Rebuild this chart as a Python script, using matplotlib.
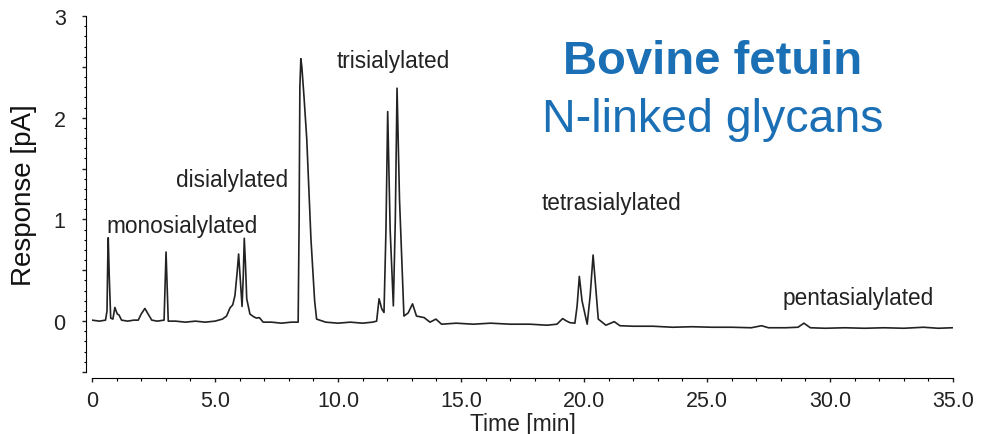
import matplotlib.pyplot as plt
from matplotlib.ticker import MultipleLocator, FuncFormatter

plt.rcParams['font.family'] = ['Liberation Sans', 'DejaVu Sans']

# chromatogram trace: time [min], response [pA]
time = [0.0, 0.30, 0.55, 0.61, 0.64, 0.66, 0.70, 0.76, 0.85, 0.93, 0.98, 1.03, 1.10, 1.20,
        1.45, 1.70, 1.88, 2.00, 2.15, 2.28, 2.43, 2.65, 2.93, 3.01, 3.10, 3.40,
        3.80, 4.20, 4.60, 5.00, 5.30, 5.47, 5.61, 5.72, 5.81, 5.90, 5.96, 6.03,
        6.10, 6.15, 6.19, 6.24, 6.29, 6.42, 6.56, 6.68, 6.80, 6.96, 7.30, 7.70,
        8.10, 8.38, 8.42, 8.45, 8.49, 8.53, 8.62, 8.73, 8.90, 9.05, 9.13, 9.50,
        10.0, 10.5, 11.0, 11.40, 11.57, 11.67, 11.78, 11.87, 11.95, 12.02, 12.12,
        12.25, 12.33, 12.40, 12.50, 12.68, 12.85, 13.03, 13.19, 13.50, 13.74,
        13.98, 14.21, 14.80, 15.50, 16.20, 17.00, 17.80, 18.50, 18.90, 19.13,
        19.30, 19.43, 19.63, 19.72, 19.81, 19.92, 20.13, 20.25, 20.37, 20.47,
        20.58, 20.89, 21.23, 21.46, 22.00, 22.80, 23.60, 24.40, 25.20, 26.00,
        26.80, 27.22, 27.50, 28.20, 28.70, 28.94, 29.20, 29.80, 30.60, 31.40,
        32.20, 33.00, 33.80, 34.40, 34.97]
response = [0.01, 0.0, 0.01, 0.10, 0.60, 0.82, 0.45, 0.03, 0.02, 0.135, 0.10, 0.07, 0.06, 0.01,
            0.0, 0.01, 0.01, 0.07, 0.125, 0.07, 0.01, 0.0, 0.01, 0.68, 0.0, 0.0,
            -0.01, 0.0, -0.01, 0.0, 0.02, 0.05, 0.13, 0.16, 0.25, 0.48, 0.66, 0.40,
            0.145, 0.45, 0.815, 0.55, 0.22, 0.07, 0.045, 0.03, 0.035, -0.01, -0.01, -0.02,
            -0.01, -0.01, 1.00, 2.30, 2.58, 2.50, 2.20, 1.79, 0.81, 0.20, 0.02, -0.01,
            -0.02, -0.01, -0.02, -0.01, 0.0, 0.22, 0.12, 0.085, 0.90, 2.06, 0.90,
            0.15, 1.00, 2.29, 1.20, 0.05, 0.08, 0.17, 0.05, 0.035, -0.01,
            0.02, -0.03, -0.02, -0.03, -0.02, -0.03, -0.03, -0.04, -0.03, 0.025,
            0.0, -0.015, -0.02, 0.15, 0.44, 0.20, -0.03, 0.25, 0.65, 0.35,
            0.02, -0.04, -0.005, -0.045, -0.05, -0.05, -0.06, -0.055, -0.06, -0.06,
            -0.065, -0.045, -0.065, -0.065, -0.06, -0.02, -0.065, -0.07, -0.065, -0.07,
            -0.065, -0.07, -0.06, -0.07, -0.065]

labels = ['monosialylated', 'disialylated', 'trisialylated', 'tetrasialylated', 'pentasialylated']
label_x = [0.57, 3.41, 9.96, 18.29, 28.09]
label_y = [0.94, 1.39, 2.56, 1.17, 0.23]

fig = plt.figure(figsize=(9.84, 4.35), dpi=100)
ax = fig.add_axes([92 / 984, 62 / 435, 861 / 984, 356 / 435])

ax.plot(time, response, color='#222222', lw=1.2)

for txt, x, y in zip(labels, label_x, label_y):
    ax.text(x, y, txt, fontsize=16.3, color='#222222', ha='left', va='center')

ax.text(25.24, 2.56, 'Bovine fetuin', fontsize=34, fontweight='bold',
        color='#1b6fb5', ha='center', va='center')
ax.text(25.24, 1.99, 'N-linked glycans', fontsize=33.5,
        color='#1b6fb5', ha='center', va='center')

ax.set_xlim(0, 35)
ax.set_ylim(-0.5, 3)
ax.spines['top'].set_visible(False)
ax.spines['right'].set_visible(False)
ax.spines['left'].set_position(('outward', 4))
ax.spines['bottom'].set_position(('outward', 4))

ax.xaxis.set_major_locator(MultipleLocator(5))
ax.xaxis.set_minor_locator(MultipleLocator(1))
ax.xaxis.set_major_formatter(FuncFormatter(lambda v, p: '0' if v == 0 else f'{v:.1f}'))
ax.yaxis.set_major_locator(MultipleLocator(0.5))
ax.yaxis.set_minor_locator(MultipleLocator(0.1))
ax.yaxis.set_major_formatter(FuncFormatter(lambda v, p: f'{v:.0f}' if v >= 0 and v == int(v) else ''))

ax.tick_params(axis='both', which='major', length=3, width=1, labelsize=15.5, colors='#222222')
ax.tick_params(axis='both', which='minor', length=1.8, width=0.8)
ax.tick_params(axis='y', which='major', pad=12)
ax.tick_params(axis='x', which='major', pad=6)

ax.set_xlabel('Time [min]', fontsize=16.5, color='#222222', labelpad=1)
ax.set_ylabel('Response [pA]', fontsize=20, color='#111111', labelpad=12)

plt.savefig('out.png', dpi=100)
